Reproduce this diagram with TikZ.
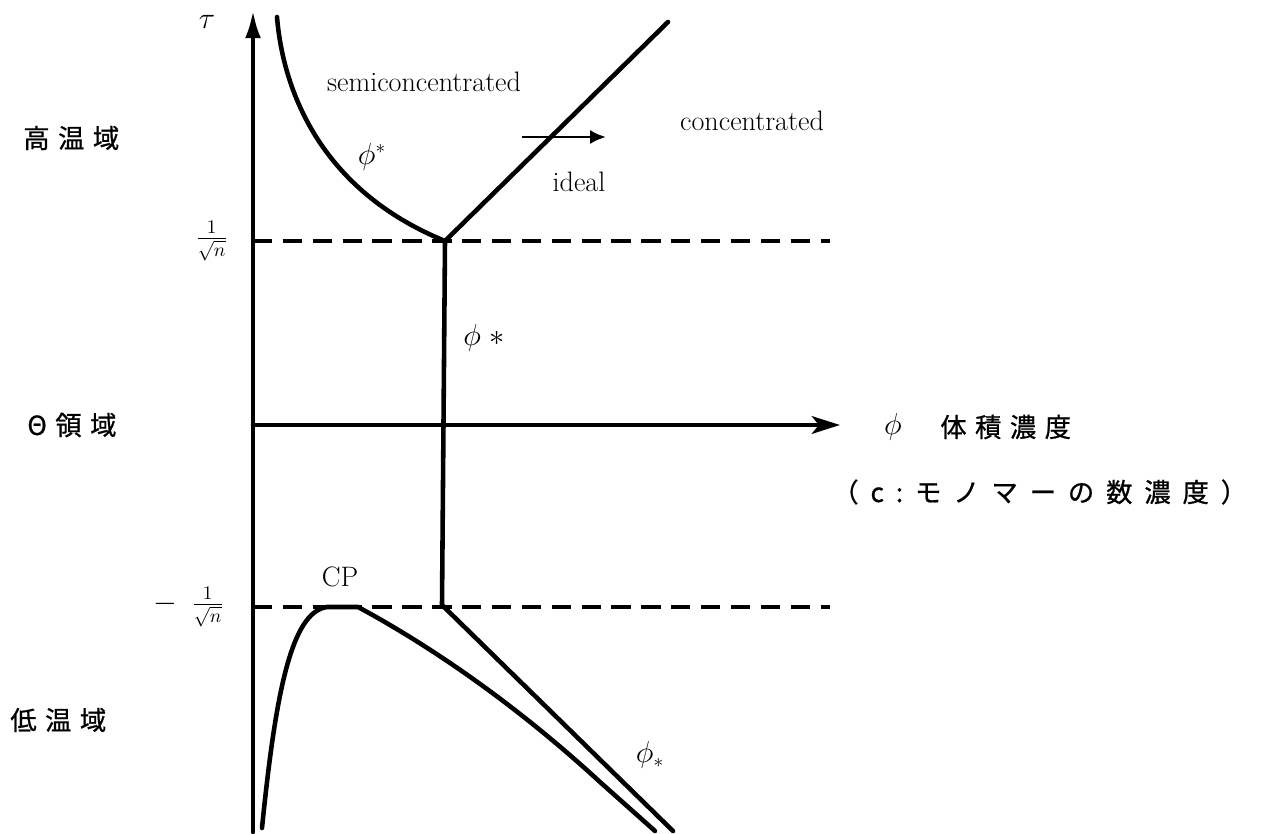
\documentclass[tikz,border=0pt]{standalone}
\usepackage{fontspec}
\usepackage{tikz}
\usetikzlibrary{arrows.meta,positioning}
\newfontfamily\jpfont[FakeBold=0.8]{Noto Sans CJK JP}

\begin{document}
\begin{tikzpicture}[x=0.02cm,y=-0.02cm,
  curve/.style={line width=2.6pt, line cap=round, line join=round},
  guide/.style={line width=1.8pt, dash pattern=on 11pt off 6pt},
  comment/.style={font=\fontsize{16}{19}\selectfont},
  region/.style={inner sep=0pt, anchor=west, font=\jpfont\fontsize{15}{18}\selectfont\addfontfeature{LetterSpace=32}}]
\useasboundingbox (0,0) rectangle (1269,834);

% axes
\coordinate (O) at (253,832);
\coordinate (Ytop) at (253,10);
\coordinate (Xl) at (253,425);
\coordinate (Xr) at (840,425);
\draw [curve, -{Latex[length=16pt,width=9pt]}] (O) -- (Ytop);
\draw [curve, -{Stealth[length=16pt,width=10pt,inset=4pt]}] (Xl) -- (Xr);
\node [comment] (tau) at (207,22) {$\tau$};
\node [comment] (phi) at (893,427) {$\phi$};
\node [region] (vol) at (940,427) {体積濃度};
\node [region, font=\jpfont\fontsize{15}{18}\selectfont\addfontfeature{LetterSpace=45}] (mono) at (832,492) {（c:モノマーの数濃度）};

% temperature regions
\node [region] (high) at (23,138) {高温域};
\node [region] (theta) at (27,425) {Θ領域};
\node [region] (low) at (10,720) {低温域};

% theta lines
\coordinate (up-l) at (253,241);
\coordinate (up-r) at (830,241);
\coordinate (lo-l) at (253,607);
\coordinate (lo-r) at (830,607);
\draw [guide] (up-l) -- (up-r);
\draw [guide] (lo-l) -- (lo-r);
\node [comment, anchor=east, inner sep=0pt] (upper) at (228,241) {$\frac{1}{\sqrt{n}}$};
\node [comment, anchor=east, inner sep=0pt] (lower) at (224,607) {$-\mkern9mu\frac{1}{\sqrt{n}}$};

% crossover lines
\coordinate (kink) at (445,241);
\coordinate (cusp) at (442,605);
\coordinate (top) at (668,22);
\coordinate (end) at (673,831);
\draw [curve] (277,17) .. controls (283,90) and (320,190) .. (kink);
\draw [curve] (kink) -- (top);
\draw [curve] (kink) -- (cusp) -- (end);
\draw [curve] (262,828) .. controls (275,700) and (290,612) .. (327,607)
  -- (358,607) .. controls (410,635) and (500,690) .. (600,782) -- (655,831);

\coordinate (a1) at (522,137);
\coordinate (a2) at (606,137);
\draw [line width=1.6pt, -{Latex[length=9pt,width=8pt]}] (a1) -- (a2);

% labels
\node [comment] (semi) at (424,82) {semiconcentrated};
\node [comment] (conc) at (752,121) {concentrated};
\node [comment] (ideal) at (579,182) {ideal};
\node [comment] (pstar) at (372,157) {$\phi^*$};
\node [comment] (pmid) at (484,338) {$\phi\ {*}$};
\node [comment] (plow) at (650,755) {$\phi_*$};
\node [comment] (cp) at (340,577) {CP};

\end{tikzpicture}
\end{document}
